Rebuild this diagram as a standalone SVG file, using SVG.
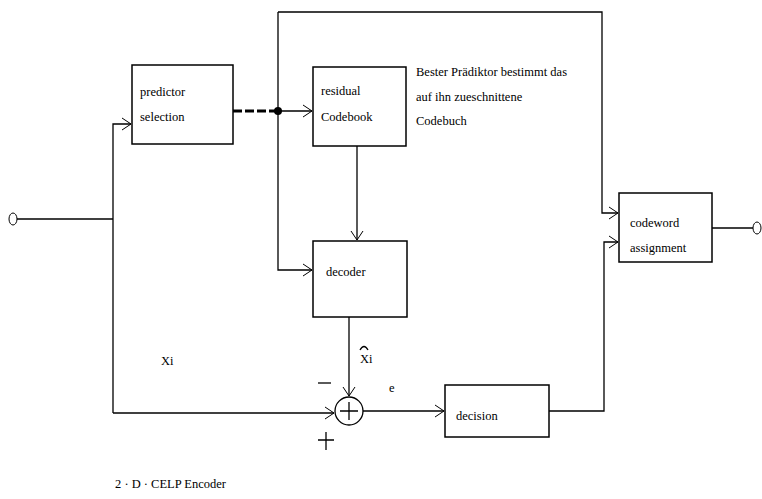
<svg xmlns="http://www.w3.org/2000/svg" width="762" height="499" viewBox="0 0 762 499">
<defs>
<style>
.box{fill:#fff;stroke:#000;stroke-width:1.5}
.ln{fill:none;stroke:#000;stroke-width:1.3}
.t{font-family:"Liberation Serif","DejaVu Serif",serif;font-size:12.5px;fill:#000}
</style>
<marker id="arr" markerWidth="12" markerHeight="14" refX="10" refY="7" orient="auto" markerUnits="userSpaceOnUse">
<path d="M1,1 L10,7 L1,13" fill="none" stroke="#000" stroke-width="1"/>
</marker>
</defs>
<rect width="762" height="499" fill="#fff"/>
<g id="connectors">
<ellipse cx="13" cy="219" rx="4" ry="6" fill="#fff" stroke="#000" stroke-width="1"/>
<path class="ln" d="M17,219 H113"/>
<path class="ln" d="M113,413 V124 H131" marker-end="url(#arr)"/>
<path d="M233,111 H278" fill="none" stroke="#000" stroke-width="3" stroke-dasharray="9,3"/>
<circle cx="278" cy="111" r="4" fill="#000"/>
<path class="ln" d="M278,111 H312" marker-end="url(#arr)"/>
<path class="ln" d="M278,12 V270 H312" marker-end="url(#arr)"/>
<path class="ln" d="M278,12 H602 V213 H618" marker-end="url(#arr)"/>
<path class="ln" d="M357,146 V240" marker-end="url(#arr)"/>
<path class="ln" d="M349,317 V396" marker-end="url(#arr)"/>
<path class="ln" d="M113,413 H334" marker-end="url(#arr)"/>
<path class="ln" d="M363,411 H444" marker-end="url(#arr)"/>
<path class="ln" d="M549,411 H604 V242 H618" marker-end="url(#arr)"/>
<path class="ln" d="M712,228 H753"/>
<ellipse cx="757" cy="228" rx="4" ry="6" fill="#fff" stroke="#000" stroke-width="1"/>
</g>
<g id="predictor">
<rect class="box" x="132" y="65" width="101" height="79"/>
<text class="t" x="140" y="96">predictor</text>
<text class="t" x="140" y="121">selection</text>
</g>
<g id="residual">
<rect class="box" x="313" y="67" width="93" height="79"/>
<text class="t" x="321" y="95">residual</text>
<text class="t" x="321" y="121">Codebook</text>
</g>
<g id="note">
<text class="t" x="416" y="76">Bester Prädiktor bestimmt das</text>
<text class="t" x="416" y="101">auf ihn zueschnittene</text>
<text class="t" x="416" y="125">Codebuch</text>
</g>
<g id="decoder">
<rect class="box" x="313" y="241" width="94" height="76"/>
<text class="t" x="326" y="276">decoder</text>
</g>
<g id="sum">
<circle cx="349" cy="411" r="14" fill="#fff" stroke="#000" stroke-width="1.3"/>
<path class="ln" d="M340,411 H358 M349,402 V420"/>
<path class="ln" d="M318,383 H331"/>
<path class="ln" d="M318,440 H334 M326,432 V450"/>
</g>
<g id="decision">
<rect class="box" x="445" y="385" width="104" height="52"/>
<text class="t" x="456" y="420">decision</text>
</g>
<g id="codeword">
<rect class="box" x="619" y="193" width="93" height="69"/>
<text class="t" x="630" y="227">codeword</text>
<text class="t" x="630" y="252">assignment</text>
</g>
<g id="labels">
<text class="t" x="161" y="365">Xi</text>
<text class="t" x="360" y="363">Xi</text>
<path class="ln" d="M360,350 Q364,343 368,350" stroke-width="1"/>
<text class="t" x="389" y="392" font-size="10">e</text>
<text class="t" x="115" y="488" font-size="10">2 · D · CELP  Encoder</text>
</g>
</svg>
